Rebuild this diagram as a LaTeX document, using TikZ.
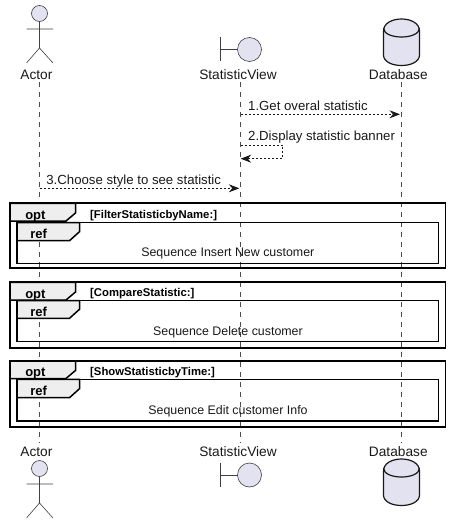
\documentclass[tikz,border=0pt]{standalone}
\usepackage{fontspec}
\setmainfont{Liberation Sans}
\usetikzlibrary{arrows.meta}
\definecolor{partfill}{HTML}{E2E2F0}
\definecolor{partline}{HTML}{181818}
\definecolor{tabfill}{HTML}{EEEEEE}
\tikzset{
  x=1pt,y=-1pt,
  plabel/.style={inner sep=0pt,font=\fontsize{13.7}{14}\selectfont,text=black!90},
  msg/.style={inner sep=0pt,anchor=base west,font=\fontsize{13.2}{13}\selectfont,text=black!90},
  reftext/.style={inner sep=0pt,anchor=base,font=\fontsize{12.4}{12}\selectfont,text=black!90},
  condtext/.style={inner sep=0pt,anchor=base west,font=\bfseries\fontsize{11.3}{11}\selectfont},
  tabtext/.style={inner sep=0pt,anchor=base,font=\bfseries\fontsize{13}{14}\selectfont},
  lifeline/.style={draw=black!70,line width=0.7pt,dash pattern=on 5pt off 5pt},
  message/.style={draw=partline,line width=0.8pt,dash pattern=on 2pt off 2pt,
    -{Stealth[length=10.5pt,width=8pt,inset=3.5pt,sep=0pt]}},
  partshape/.style={draw=black!75,fill=partfill,line width=0.6pt},
  dbshape/.style={draw=partline,fill=partfill,line width=1.2pt},
  frameout/.style={draw=black,line width=1.8pt},
  framein/.style={draw=black,line width=1.5pt},
  tabshape/.style={draw=black,fill=tabfill,line width=1.5pt,line join=miter},
}
\newcommand{\actorfig}[1]{%
  \draw[partshape] (39.5,#1+13.5) circle[radius=8];
  \draw[draw=black!75,line width=0.6pt] (39.5,#1+21.5) -- (39.5,#1+48)
    (26.5,#1+29) -- (53,#1+29)
    (26.5,#1+63) -- (39.5,#1+48) -- (53,#1+63);
}
\newcommand{\boundfig}[1]{%
  \draw[draw=black!75,line width=0.6pt] (220.5,#1+37) -- (220.5,#1+61.5)
    (220.5,#1+49.5) -- (237.5,#1+49.5);
  \draw[partshape] (249.5,#1+49.5) circle[radius=12];
}
\newcommand{\dbfig}[1]{%
  \draw[dbshape] (383.5,#1+31) .. controls (383.5,#1+15) and (419.5,#1+15) .. (419.5,#1+31)
    -- (419.5,#1+55) .. controls (419.5,#1+69) and (383.5,#1+69) .. (383.5,#1+55) -- cycle;
  \draw[dbshape,fill=none] (383.5,#1+28) .. controls (383.5,#1+40) and (419.5,#1+40) .. (419.5,#1+28);
}
% one opt + ref block: #1 top, #2 opt tab bottom, #3 inner top, #4 ref tab bottom, #5 inner bottom, #6 outer bottom
\newcommand{\optblock}[6]{%
  \draw[tabshape] (10,#1) -- (75.5,#1) -- (75.5,#2-8) -- (66,#2) -- (10,#2) -- cycle;
  \draw[frameout] (10,#1) rectangle (445.5,#6);
  \draw[tabshape] (17,#3) -- (79.5,#3) -- (79.5,#4-9) -- (69.5,#4) -- (17,#4) -- cycle;
  \draw[framein] (17,#3) rectangle (438.5,#5);
}
\begin{document}
\begin{tikzpicture}
\useasboundingbox (0,0) rectangle (450,524);
% lifeline ends
\coordinate (aTop) at (39.5,82);
\coordinate (aBot) at (39.5,443);
\coordinate (sTop) at (240.5,82);
\coordinate (sBot) at (240.5,443);
\coordinate (dTop) at (401.5,82);
\coordinate (dBot) at (401.5,443);
\draw[lifeline] (aTop) -- (aBot);
\draw[lifeline] (sTop) -- (sBot);
\draw[lifeline] (dTop) -- (dBot);
% participants
\actorfig{0}
\boundfig{0}
\dbfig{0}
\actorfig{455}
\boundfig{425.5}
\dbfig{440}
\node[plabel] (actorT) at (36.4,75) {Actor};
\node[plabel] (viewT) at (238,75) {StatisticView};
\node[plabel] (dbT) at (398.3,75) {Database};
\node[plabel] (actorB) at (36.4,452) {Actor};
\node[plabel] (viewB) at (238,452) {StatisticView};
\node[plabel] (dbB) at (398.3,452) {Database};
% messages
\coordinate (m1a) at (240.5,114.3);
\coordinate (m1b) at (400,114.3);
\draw[message] (m1a) -- (m1b);
\node[msg] (m1) at (248,110.5) {1.Get overal statistic};
\coordinate (m2a) at (240.5,145.3);
\coordinate (m2b) at (282.7,145.3);
\coordinate (m2c) at (282.7,158.7);
\coordinate (m2d) at (240.7,158.7);
\draw[message] (m2a) -- (m2b) -- (m2c) -- (m2d);
\node[msg] (m2) at (248,140.5) {2.Display statistic banner};
\coordinate (m3a) at (39.5,188.3);
\coordinate (m3b) at (239.3,188.3);
\draw[message] (m3a) -- (m3b);
\node[msg] (m3) at (46.2,184.5) {3.Choose style to see statistic};
% frames
\optblock{203.3}{221}{222.7}{240.7}{263.3}{268.3}
\optblock{282.3}{300}{300.7}{318.3}{341.7}{347.7}
\optblock{361}{378.5}{379.3}{397.7}{421}{427}
\node[tabtext] (o1) at (35.4,219) {opt};
\node[tabtext] (r1) at (38.7,238) {ref};
\node[condtext] (c1) at (90,218) {[FilterStatisticbyName:]};
\node[reftext] (t1) at (227.8,256) {Sequence Insert New customer};
\node[tabtext] (o2) at (35.4,298) {opt};
\node[tabtext] (r2) at (38.7,316) {ref};
\node[condtext] (c2) at (90,296.5) {[CompareStatistic:]};
\node[reftext] (t2) at (228,335) {Sequence Delete customer};
\node[tabtext] (o3) at (35.4,376.5) {opt};
\node[tabtext] (r3) at (38.7,395) {ref};
\node[condtext] (c3) at (90,375) {[ShowStatisticbyTime:]};
\node[reftext] (t3) at (228,414) {Sequence Edit customer Info};
\end{tikzpicture}
\end{document}
